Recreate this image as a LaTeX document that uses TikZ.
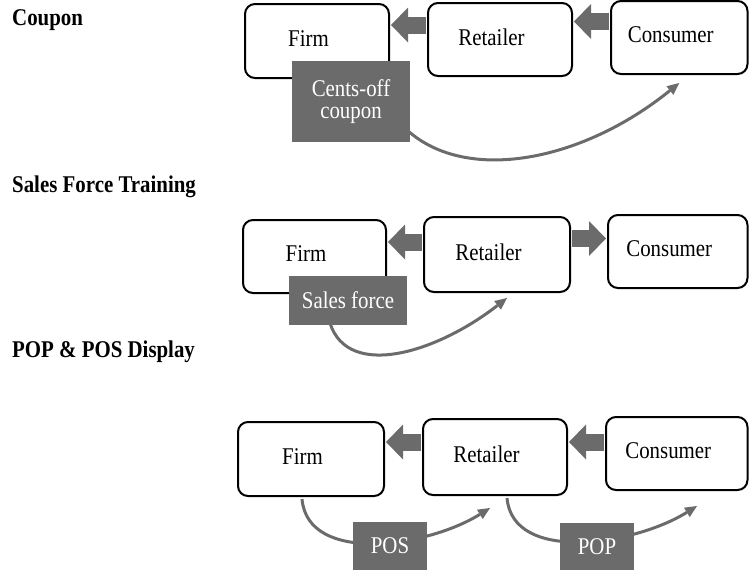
\documentclass[tikz,border=0pt]{standalone}
\usepackage{fontspec}
\setmainfont{Liberation Serif}[FakeStretch=0.87]
\usetikzlibrary{arrows.meta}
\definecolor{pgray}{HTML}{6B6B6B}
\tikzset{
  box/.style={draw=black, fill=white, line width=2pt, rounded corners=10pt, inner sep=0pt},
  txt/.style={xshift=-8.5pt, yshift=2.5pt, inner sep=0pt},
  graybox/.style={fill=pgray, text=white, inner sep=0pt, align=center},
  blockarrow/.style={draw=pgray, line width=17pt, shorten <=1.2pt, shorten >=1pt,
    -{Triangle[width=35pt,length=17pt,line width=0pt]}},
  curvearrow/.style={draw=pgray, line width=3pt, -{Triangle[width=11pt,length=12pt,line width=0pt]}},
  title/.style={anchor=base west, inner sep=0pt, font=\fontsize{24pt}{26pt}\selectfont\bfseries}
}
\begin{document}
\begin{tikzpicture}[x=1pt, y=1pt, font=\fontsize{24pt}{22pt}\selectfont]
\useasboundingbox (0,0) rectangle (749,-571);

% titles
\node[title] (t1) at (12,-25) {Coupon};
\node[title] (t2) at (12,-192) {Sales Force Training};
\node[title] (t3) at (12,-357) {POP \& POS Display};

% ---- Row 1: Coupon
\node[box, minimum width=144pt, minimum height=74pt, label={[txt]center:Firm}] (f1) at (317,-41) {};
\node[box, minimum width=144pt, minimum height=73pt, label={[txt]center:Retailer}] (r1) at (500,-39.5) {};
\node[box, minimum width=136.5pt, minimum height=73pt, label={[txt]center:Consumer}] (c1) at (679.25,-37.5) {};
\coordinate (a1) at ([yshift=14.5pt]r1.west);
\draw[blockarrow] (a1) -- (a1 -| f1.east);
\coordinate (b1) at ([yshift=16pt]c1.west);
\draw[blockarrow] (b1) -- (b1 -| r1.east);
\node[inner sep=0pt, minimum width=118pt, minimum height=81pt] (cp) at (351,-101.5) {};
\draw[curvearrow] ([xshift=-3pt,yshift=12pt]cp.south east)
  to[out=-42, in=219, out distance=80pt, in distance=125pt] ([yshift=-8pt]c1.south);
\node[graybox, minimum width=118pt, minimum height=81pt] (cp) at (351,-101.5) {Cents-off\\coupon};

% ---- Row 2: Sales Force Training
\node[box, minimum width=143pt, minimum height=73pt, label={[txt]center:Firm}] (f2) at (314.5,-256.5) {};
\node[box, minimum width=146pt, minimum height=75pt, label={[txt]center:Retailer}] (r2) at (497,-254.5) {};
\node[box, minimum width=139.5pt, minimum height=73pt, label={[txt]center:Consumer}] (c2) at (677.75,-251.5) {};
\coordinate (a2) at ([yshift=12.5pt]r2.west);
\draw[blockarrow] (a2) -- (a2 -| f2.east);
\coordinate (b2) at ([yshift=16pt]r2.east);
\draw[blockarrow] (b2) -- (b2 -| c2.west);
\node[graybox, minimum width=118pt, minimum height=49pt] (sf) at (348,-300.5) {Sales force};
\draw[curvearrow] ([xshift=-18pt,yshift=2pt]sf.south)
  to[out=-72, in=218, out distance=60pt, in distance=88pt] ([xshift=10pt,yshift=-5pt]r2.south);

% ---- Row 3: POP & POS Display
\node[box, minimum width=146pt, minimum height=74pt, label={[txt]center:Firm}] (f3) at (311,-459) {};
\node[box, minimum width=144pt, minimum height=76pt, label={[txt]center:Retailer}] (r3) at (495,-457) {};
\node[box, minimum width=141.5pt, minimum height=73pt, label={[txt]center:Consumer}] (c3) at (676.75,-453.5) {};
\coordinate (a3) at ([yshift=15pt]r3.west);
\draw[blockarrow] (a3) -- (a3 -| f3.east);
\coordinate (b3) at ([yshift=11.5pt]c3.west);
\draw[blockarrow] (b3) -- (b3 -| r3.east);
\draw[curvearrow] ([xshift=-9pt,yshift=-2pt]f3.south)
  to[out=-85, in=212, out distance=66pt, in distance=74pt] ([xshift=-5pt,yshift=-12pt]r3.south);
\draw[curvearrow] ([xshift=12pt,yshift=-2pt]r3.south)
  to[out=-85, in=212, out distance=66pt, in distance=74pt] ([xshift=20.25pt,yshift=-15pt]c3.south);
\node[graybox, minimum width=74pt, minimum height=48pt] (pos) at (390,-546) {POS};
\node[graybox, minimum width=74pt, minimum height=47pt] (pop) at (597,-546.5) {POP};
\end{tikzpicture}
\end{document}
